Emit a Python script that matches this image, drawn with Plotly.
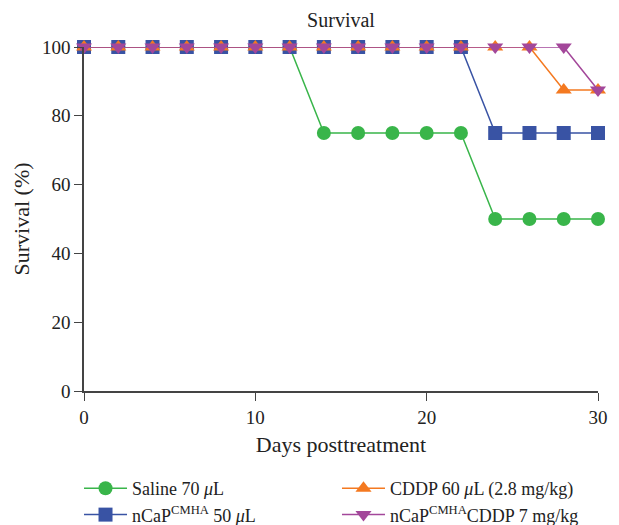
import plotly.graph_objects as go

days = [0, 2, 4, 6, 8, 10, 12, 14, 16, 18, 20, 22, 24, 26, 28, 30]
saline = [100, 100, 100, 100, 100, 100, 100, 75, 75, 75, 75, 75, 50, 50, 50, 50]
ncap = [100, 100, 100, 100, 100, 100, 100, 100, 100, 100, 100, 100, 75, 75, 75, 75]
cddp = [100, 100, 100, 100, 100, 100, 100, 100, 100, 100, 100, 100, 100, 100, 87.5, 87.5]
ncap_cddp = [100, 100, 100, 100, 100, 100, 100, 100, 100, 100, 100, 100, 100, 100, 100, 87.5]

names = ["Saline 70 <i>μ</i>L",
         "nCaP<sup>CMHA</sup> 50 <i>μ</i>L",
         "CDDP 60 <i>μ</i>L (2.8 mg/kg)",
         "nCaP<sup>CMHA</sup>CDDP 7 mg/kg"]
colors = ["#39B54A", "#3953A4", "#F47920", "#A3479A"]
symbols = ["circle", "square", "triangle-up", "triangle-down"]
series = [saline, ncap, cddp, ncap_cddp]
legends = ["legend", "legend", "legend2", "legend2"]

FONT = "Liberation Serif"
fig = go.Figure()
for name, col, sym, ys, lg in zip(names, colors, symbols, series, legends):
    fig.add_trace(go.Scatter(
        x=days, y=ys, name=name, mode="lines+markers",
        line=dict(color=col, width=1.5),
        marker=dict(color=col, symbol=sym, size=14, line=dict(width=0)),
        cliponaxis=False, legend=lg,
    ))

leg_common = dict(xref="paper", yref="paper", yanchor="top",
                  xanchor="left", orientation="v", tracegroupgap=0,
                  font=dict(family=FONT, size=18, color="#222"),
                  bgcolor="rgba(0,0,0,0)", itemwidth=43)

fig.update_layout(
    width=619, height=525,
    margin=dict(l=84, r=21, t=47, b=134, autoexpand=False),
    plot_bgcolor="white", paper_bgcolor="white",
    font=dict(family=FONT, size=18, color="#222"),
    title=dict(text="Survival", x=0.5, xanchor="center", xref="paper",
               y=(525 - 20) / 525, yref="container", yanchor="middle",
               font=dict(family=FONT, size=20, color="#222")),
    xaxis=dict(range=[0, 30], tickvals=[0, 10, 20, 30], showline=True,
               linecolor="#444", linewidth=1.5, ticks="outside", ticklen=8,
               tickcolor="#444", showgrid=False, zeroline=False,
               title=dict(text="Days posttreatment", standoff=10),
               tickfont=dict(size=19)),
    yaxis=dict(range=[0, 100], tickvals=[0, 20, 40, 60, 80, 100], showline=True,
               linecolor="#444", linewidth=1.5, ticks="outside", ticklen=8,
               tickcolor="#444", showgrid=False, zeroline=False,
               ticksuffix="\u00a0",
               title=dict(text="Survival (%)", standoff=6),
               tickfont=dict(size=19)),
    legend=dict(x=-0.0097, y=-0.2297, **leg_common),
    legend2=dict(x=0.4922, y=-0.2297, **leg_common),
)

fig.write_html("out.html")
